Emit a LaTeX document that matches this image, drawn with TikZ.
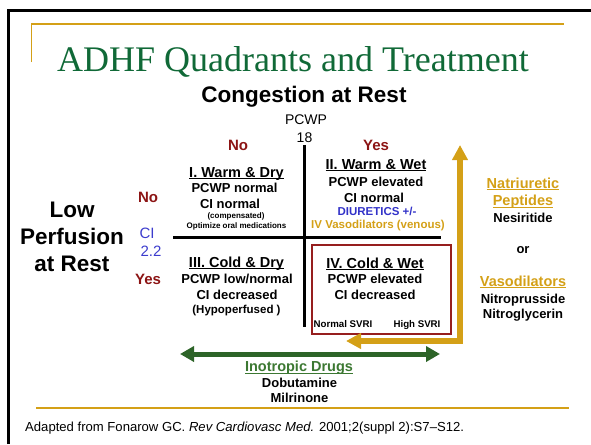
\documentclass[tikz,border=0pt]{standalone}
\usepackage{fontspec}
\setmainfont{Liberation Sans}
\newfontfamily\titlefont{Liberation Serif}
\usepackage{tikz}
\usetikzlibrary{arrows.meta}
\definecolor{titlegreen}{RGB}{16,105,55}
\definecolor{goldline}{RGB}{212,160,23}
\definecolor{darkred}{RGB}{140,20,20}
\definecolor{boxred}{RGB}{150,30,30}
\definecolor{ciblue}{RGB}{60,60,205}
\definecolor{drugblue}{RGB}{50,50,200}
\definecolor{inogreen}{RGB}{45,100,40}
\definecolor{inotext}{RGB}{60,120,50}
% underline close to the baseline
\newcommand{\ulin}[1]{\setbox0=\hbox{#1}\rlap{\rule[-2.3pt]{\wd0}{1.3pt}}\box0}
\tikzset{
	txt/.style={anchor=base,inner sep=0pt,font=\bfseries\fontsize{13}{15}\selectfont},
	hdr/.style={txt,font=\bfseries\fontsize{14.5}{17}\selectfont},
	small/.style={txt,font=\bfseries\fontsize{8}{9}\selectfont},
	yesno/.style={txt,text=darkred,font=\bfseries\fontsize{15}{17}\selectfont},
	big/.style={txt,font=\bfseries\fontsize{22.5}{26}\selectfont},
	axis/.style={line width=3pt},
}
\begin{document}
\begin{tikzpicture}[x=1pt,y=-1pt,line cap=butt,line join=miter]
	\useasboundingbox (0,0) rectangle (591,444);
	% slide frame and title
	\draw[line width=3pt] (8,444) |- (591,10.5);
	\draw[goldline,line width=1.3pt] (31.5,62) |- (564,24);
	\node[anchor=base west,inner sep=0pt,text=titlegreen,font=\titlefont\fontsize{36}{40}\selectfont] (title) at (57,71) {ADHF Quadrants and Treatment};
	\node[big] (congestion) at (304,102) {Congestion at Rest};
	\node[txt,font=\fontsize{14}{16}\selectfont] (pcwp) at (306,124.5) {PCWP};
	\node[txt,font=\fontsize{14}{16}\selectfont] (pcwpval) at (304.5,142) {18};
	\node[yesno] (colno) at (238,150.5) {No};
	\node[yesno] (colyes) at (376,150.5) {Yes};

	% axes
	\coordinate (axtop) at (304,145);
	\coordinate (axbot) at (304,327);
	\coordinate (axleft) at (173,237);
	\coordinate (axright) at (441,237);
	\draw[axis] (axtop) -- (axbot);
	\draw[axis] (axleft) -- (axright);

	% left labels
	\node[big] (low) at (72,217) {Low};
	\node[big] (perf) at (72,244.5) {Perfusion};
	\node[big] (atrest) at (72,271) {at Rest};
	\node[yesno] (rowno) at (148,202) {No};
	\node[txt,text=ciblue,font=\fontsize{15}{17}\selectfont] (ci) at (147,238) {CI};
	\node[txt,text=ciblue,font=\fontsize{15}{17}\selectfont] (cival) at (151,256) {2.2};
	\node[yesno] (rowyes) at (148,284.5) {Yes};

	% quadrant I
	\node[hdr] (q1) at (236.5,177) {\ulin{I. Warm \& Dry}};
	\node[txt] (q1a) at (234.5,192) {PCWP normal};
	\node[txt] (q1b) at (230,208) {CI normal};
	\node[small] (q1c) at (236,218.5) {(compensated)};
	\node[small] (q1d) at (236.5,228) {Optimize oral medications};

	% quadrant II
	\node[hdr] (q2) at (376,169) {\ulin{II. Warm \& Wet}};
	\node[txt] (q2a) at (376,186) {PCWP elevated};
	\node[txt] (q2b) at (374,202) {CI normal};
	\node[txt,text=drugblue,font=\bfseries\fontsize{11.5}{13}\selectfont] (q2c) at (377,215) {DIURETICS +/-};
	\node[txt,text=goldline,font=\bfseries\fontsize{11.5}{13}\selectfont] (q2d) at (378,228.5) {IV Vasodilators (venous)};

	% quadrant III
	\node[hdr] (q3) at (236.5,267) {\ulin{III. Cold \& Dry}};
	\node[txt] (q3a) at (237,283) {PCWP low/normal};
	\node[txt] (q3b) at (237,299) {CI decreased};
	\node[txt,font=\bfseries\fontsize{11.5}{13}\selectfont] (q3c) at (236.5,313) {(Hypoperfused )};

	% quadrant IV
	\node[draw=boxred,line width=1.5pt,minimum width=139pt,minimum height=89pt,inner sep=0pt] (q4box) at (381.5,289.5) {};
	\node[hdr] (q4) at (375,268) {\ulin{IV. Cold \& Wet}};
	\node[txt] (q4a) at (375,283.5) {PCWP elevated};
	\node[txt] (q4b) at (375,299.5) {CI decreased};
	\node[txt,font=\bfseries\fontsize{9.7}{11}\selectfont] (svrin) at (343,327) {Normal SVRI};
	\node[txt,font=\bfseries\fontsize{9.7}{11}\selectfont] (svrih) at (417,327) {High SVRI};

	% vasodilator arrow
	\coordinate (vasoend) at (346,341);
	\coordinate (vasotop) at (460,145);
	\draw[goldline,line width=5.5pt,{Triangle[length=15pt,width=15pt]}-{Triangle[length=15pt,width=15pt]}] (vasoend) -| (vasotop);
	\node[hdr,text=goldline] (natri) at (523,188) {\ulin{Natriuretic}};
	\node[hdr,text=goldline] (pept) at (523,205.5) {\ulin{Peptides}};
	\node[txt] (nesi) at (523,222) {Nesiritide};
	\node[txt] (or) at (523,253) {or};
	\node[hdr,text=goldline] (vaso) at (523,286) {\ulin{Vasodilators}};
	\node[txt] (nitrop) at (523,303) {Nitroprusside};
	\node[txt] (nitrog) at (523,318) {Nitroglycerin};

	% inotrope arrow
	\coordinate (inoleft) at (180,354);
	\coordinate (inoright) at (440,354);
	\draw[inogreen,line width=5pt,{Triangle[length=14pt,width=15pt]}-{Triangle[length=14pt,width=15pt]}] (inoleft) -- (inoright);
	\node[hdr,text=inotext] (ino) at (299,371.5) {\ulin{Inotropic Drugs}};
	\node[txt] (dobu) at (299.5,387) {Dobutamine};
	\node[txt] (milri) at (299.5,402.5) {Milrinone};

	% footer
	\draw[goldline,line width=2pt] (36,408) -- (569,408);
	\node[anchor=base west,inner sep=0pt,font=\fontsize{13.1}{15}\selectfont] (cite) at (25,431.5) {Adapted from Fonarow GC. \textit{Rev Cardiovasc Med.} 2001;2(suppl 2):S7--S12.};
\end{tikzpicture}
\end{document}
